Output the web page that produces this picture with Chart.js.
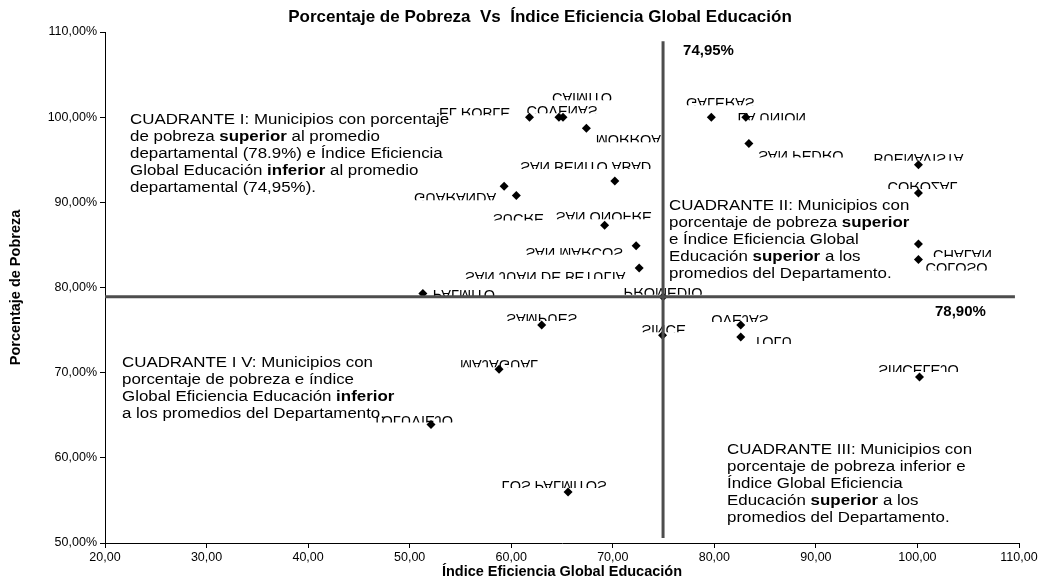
<!DOCTYPE html>
<html><head><meta charset="utf-8">
<script src="https://cdn.jsdelivr.net/npm/chart.js@4.4.1/dist/chart.umd.min.js"></script>
<style>html,body{margin:0;padding:0;background:#fff}#wrap{width:1046px;height:581px}</style>
</head><body><div id="wrap"><canvas id="c" width="1046" height="581"></canvas></div>
<script>
// ---- data ----
const municipios = ["EL ROBLE","COVEÑAS","CAIMITO","MORROA","SAN BENITO ABAD","GUARANDA","SUCRE","SAN ONOFRE","SAN MARCOS","SAN JUAN DE BETULIA","PALMITO","PROMEDIO","GALERAS","LA UNION","SAN PEDRO","BUENAVISTA","COROZAL","CHALAN","COLOSO","SAMPUES","SINCE","OVEJAS","TOLU","MAJAGUAL","TOLUVIEJO","SINCELEJO","LOS PALMITOS"];
const eficiencia = [61.8,64.7,65.1,67.4,70.2,59.3,60.5,69.2,72.3,72.6,51.3,74.95,79.7,83.1,83.4,100.1,100.1,100.1,100.1,63.0,74.9,82.6,82.6,58.8,52.1,100.2,65.6];
const pobreza = [100.0,100.0,100.0,98.7,92.5,91.9,90.8,87.3,84.9,82.3,79.3,78.90,100.0,100.0,96.9,94.4,91.1,85.1,83.3,75.6,74.4,75.6,74.2,70.4,63.9,69.5,56.0];
const xTicks = [20,30,40,50,60,70,80,90,100,110];
const yTicks = [50,60,70,80,90,100,110];
const promedioEficiencia = 74.95;
const promedioPobreza = 78.90;
const lineaHorizontalX = [20, 109.6];
const lineaVerticalY = [108.9, 50.6];

// ---- label placement (pixel offsets of label centre-x / strip top from the point) ----
const labelOffsets = [[-55,-9],[3,-11],[19,-24],[42,7],[-29,-19],[-49,7],[2,18],[-1,-13],[-62,2],[-94,4],[41,-3],[0,-9],[9,-19],[26,-4],[52,7],[0,-11],[4,-11],[44,6],[38,4],[0,-11],[1,-10],[-1,-10],[32,0],[0,-9],[-18,-9],[-1,-12],[-14,-11]];

const FONT = '"Liberation Sans", Arial, sans-serif';

const quadrantes = [
  {x:130, y:120, lines:["CUADRANTE I: Municipios con porcentaje","de pobreza **superior** al promedio","departamental (78.9%) e Índice Eficiencia","Global Educación **inferior** al promedio","departamental (74,95%)."]},
  {x:669, y:206, lines:["CUADRANTE II: Municipios con","porcentaje de pobreza **superior**","e Índice Eficiencia Global","Educación **superior** a los","promedios del Departamento."]},
  {x:122, y:363, lines:["CUADRANTE I V: Municipios con","porcentaje de pobreza e índice","Global Eficiencia Educación **inferior**","a los promedios del Departamento."]},
  {x:727, y:450, lines:["CUADRANTE III: Municipios con","porcentaje de pobreza inferior e","Índice Global Eficiencia","Educación **superior** a los","promedios del Departamento."]}
];

const fmt = v => v.toFixed(2).replace('.', ',');

const labelPlugin = {
  id: 'flippedLabels',
  beforeDatasetsDraw(chart) {
    const ctx = chart.ctx;
    const meta = chart.getDatasetMeta(0);
    ctx.save();
    ctx.font = '14.5px ' + FONT;
    ctx.fillStyle = '#000';
    meta.data.forEach((pt, i) => {
      const text = municipios[i];
      const w = ctx.measureText(text).width;
      const left = pt.x + labelOffsets[i][0] - w / 2;
      const top = pt.y + labelOffsets[i][1];
      ctx.save();
      ctx.beginPath();
      ctx.rect(left - 2, top - 2, w + 4, 9);
      ctx.clip();
      ctx.translate(left, top);
      ctx.scale(1, -1);
      ctx.textBaseline = 'alphabetic';
      ctx.fillText(text, 0, 0);
      ctx.restore();
    });
    ctx.restore();
  }
};

const textPlugin = {
  id: 'texts',
  afterDraw(chart) {
    const ctx = chart.ctx;
    const xs = chart.scales.x, ys = chart.scales.y;
    ctx.save();
    ctx.fillStyle = '#000';
    ctx.textBaseline = 'middle';
    // title
    ctx.font = 'bold 17px ' + FONT;
    ctx.textAlign = 'center';
    ctx.fillText('Porcentaje de Pobreza  Vs  Índice Eficiencia Global Educación', 540, 17);
    ctx.textAlign = 'left';
    // average labels
    ctx.font = 'bold 15px ' + FONT;
    ctx.fillText(fmt(promedioEficiencia) + '%', xs.getPixelForValue(promedioEficiencia) + 20, 51);
    ctx.fillText(fmt(promedioPobreza) + '%', 935, ys.getPixelForValue(promedioPobreza) + 15);
    // quadrant boxes
    const stretch = 1.09;
    quadrantes.forEach(q => {
      q.lines.forEach((ln, li) => {
        let x = 0;
        const y = q.y + li * 17;
        ctx.save();
        ctx.translate(q.x, y);
        ctx.scale(stretch, 1);
        ln.split('**').forEach((seg, si) => {
          ctx.font = (si % 2 ? 'bold ' : '') + '15.5px ' + FONT;
          ctx.fillText(seg, x, 0);
          x += ctx.measureText(seg).width;
        });
        ctx.restore();
      });
    });
    ctx.restore();
  }
};

const chart = new Chart(document.getElementById('c'), {
  type: 'scatter',
  data: {
    datasets: [
      {
        data: eficiencia.map((v, i) => ({x: v, y: pobreza[i]})),
        pointStyle: 'rectRot', pointRadius: 4.5, pointHoverRadius: 4.5,
        backgroundColor: '#000', borderColor: '#000', borderWidth: 0,
        order: 2
      },
      {
        data: lineaHorizontalX.map(x => ({x, y: promedioPobreza})),
        showLine: true, borderColor: '#4d4d4d', borderWidth: 3, pointRadius: 0,
        clip: false, order: 1
      },
      {
        data: lineaVerticalY.map(y => ({x: promedioEficiencia, y})),
        showLine: true, borderColor: '#4d4d4d', borderWidth: 3, pointRadius: 0,
        clip: false, order: 1
      }
    ]
  },
  options: {
    responsive: false, animation: false, devicePixelRatio: 1,
    layout: {padding: {top: 32, right: 27, left: 0, bottom: 0}},
    plugins: {legend: {display: false}, tooltip: {enabled: false}, title: {display: false}},
    scales: {
      x: {
        type: 'linear', min: 20, max: 110,
        afterBuildTicks: s => { s.ticks = xTicks.map(v => ({value: v})); },
        afterFit: s => { s.height = 38; },
        ticks: {callback: v => fmt(v), color: '#000', font: {family: FONT, size: 12.5}, padding: 2, maxRotation: 0},
        grid: {drawOnChartArea: false, drawTicks: true, tickLength: 5, color: '#000'},
        border: {color: '#000', width: 1},
        title: {display: true, text: 'Índice Eficiencia Global Educación', color: '#000', font: {family: FONT, size: 14.5, weight: 'bold'}, padding: {top: 0, bottom: 0}}
      },
      y: {
        type: 'linear', min: 50, max: 110,
        afterBuildTicks: s => { s.ticks = yTicks.map(v => ({value: v})); },
        afterFit: s => { s.width = 105; },
        ticks: {callback: v => fmt(v) + '%', color: '#000', font: {family: FONT, size: 12.5}, padding: 3},
        grid: {drawOnChartArea: false, drawTicks: true, tickLength: 5, color: '#000'},
        border: {color: '#000', width: 1},
        title: {display: true, text: 'Porcentaje de Pobreza', color: '#000', font: {family: FONT, size: 14.5, weight: 'bold'}, padding: {top: 7, bottom: 0}}
      }
    }
  },
  plugins: [labelPlugin, textPlugin]
});
</script>
</body></html>
